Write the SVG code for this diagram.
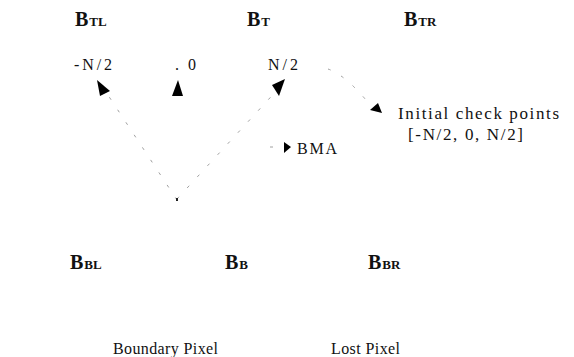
<svg xmlns="http://www.w3.org/2000/svg" width="574" height="357" viewBox="0 0 574 357">
  <style>
    .blk { font-family: "Liberation Serif", "Times New Roman", serif; font-weight: bold; fill: #111; }
    .big { font-size: 20px; }
    .sub { font-size: 13px; }
    .lbl { font-family: "Liberation Serif", "Times New Roman", serif; font-size: 16px; fill: #111; }
    .note { font-size: 17px; }
    .faint { fill: none; stroke: #888; stroke-width: 0.8; stroke-dasharray: 3 12; }
    .head { fill: #000; }
  </style>
  <rect width="574" height="357" fill="#fff"/>

  <!-- block labels -->
  <g id="btl"><text class="blk" x="75" y="26"><tspan class="big">B</tspan><tspan class="sub" dx="1">TL</tspan></text></g>
  <g id="bt"><text class="blk" x="247" y="26"><tspan class="big">B</tspan><tspan class="sub" dx="1">T</tspan></text></g>
  <g id="btr"><text class="blk" x="404" y="26"><tspan class="big">B</tspan><tspan class="sub" dx="1">TR</tspan></text></g>
  <g id="bbl"><text class="blk" x="70" y="269"><tspan class="big">B</tspan><tspan class="sub" dx="1">BL</tspan></text></g>
  <g id="bb"><text class="blk" x="225" y="269"><tspan class="big">B</tspan><tspan class="sub" dx="1">B</tspan></text></g>
  <g id="bbr"><text class="blk" x="368" y="269"><tspan class="big">B</tspan><tspan class="sub" dx="1">BR</tspan></text></g>

  <!-- check point labels -->
  <g id="cp-neg"><text class="lbl" x="74" y="70" textLength="38" lengthAdjust="spacing">-N/2</text></g>
  <g id="cp-zero"><text class="lbl" x="175" y="70" textLength="21" lengthAdjust="spacing">. 0</text></g>
  <g id="cp-pos"><text class="lbl" x="268" y="70" textLength="30" lengthAdjust="spacing">N/2</text></g>

  <g id="bma"><text class="lbl" x="297" y="154" textLength="40" lengthAdjust="spacing">BMA</text></g>

  <g id="note">
    <text class="lbl note" x="398" y="119" textLength="161" lengthAdjust="spacing">Initial check points</text>
    <text class="lbl note" x="408" y="140" textLength="115" lengthAdjust="spacing">[-N/2, 0, N/2]</text>
  </g>

  <g id="legend">
    <text class="lbl" x="113" y="354" textLength="105" lengthAdjust="spacing">Boundary Pixel</text>
    <text class="lbl" x="331" y="354" textLength="69" lengthAdjust="spacing">Lost Pixel</text>
  </g>

  <!-- connectors -->
  <g id="connectors">
    <path class="faint" d="M177 200 L104 89" stroke-dasharray="2 18"/>
    <path class="faint" d="M177 199 L279 88" stroke-dasharray="4 8"/>
    <path class="faint" d="M328 69 Q345 75 366 100"/>
    <path class="faint" d="M270 147 L284 147" stroke-dasharray="2 12"/>
    <rect x="176" y="198" width="2" height="3" fill="#222"/>
    <!-- arrowheads -->
    <polygon class="head" points="97,80 110,91 100,96"/>
    <polygon class="head" points="178,80 183,96 172,96"/>
    <polygon class="head" points="285,79 279,96 272,85"/>
    <polygon class="head" points="378,103 382,113 370,110"/>
    <polygon class="head" points="291,147 284,142 284,153"/>
  </g>
</svg>
